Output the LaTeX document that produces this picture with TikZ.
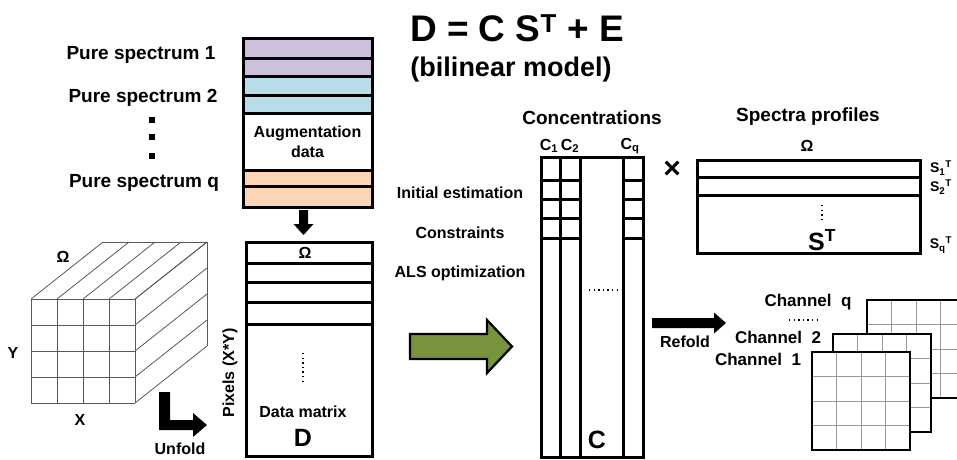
\documentclass[tikz,border=0pt]{standalone}
\usepackage{fontspec}
\setmainfont{Liberation Sans}
\usetikzlibrary{shapes,arrows,positioning}

\definecolor{pureOne}{HTML}{CCC0DA}
\definecolor{pureTwo}{HTML}{B7DEE8}
\definecolor{pureQ}{HTML}{FCD5B4}
\definecolor{alsGreen}{HTML}{77933C}

\newcommand{\bsize}[1]{\bfseries\fontsize{#1}{#1}\selectfont}

\tikzstyle{lbl} = [inner sep=0pt, font=\bsize{16}]
\tikzstyle{bigLbl} = [inner sep=0pt, font=\bsize{19}]
\tikzstyle{chanLbl} = [inner sep=0pt, font=\bsize{17}]
\tikzstyle{matLetter} = [inner sep=0pt, font=\bsize{25}]
\tikzstyle{matBox} = [rectangle, draw, line width=3pt, inner sep=0pt]
\tikzstyle{lineT} = [draw, line width=3pt]
\tikzstyle{gridLine} = [draw=black!65, line width=0.8pt]
\tikzstyle{chanLine} = [draw=black!40, line width=1pt]
\tikzstyle{chanBox} = [draw, fill=white, line width=1.6pt]
\tikzstyle{blockArrow} = [fill=black]
\tikzstyle{dotSq} = [rectangle, fill=black, minimum size=6pt, inner sep=0pt]
\tikzstyle{dotLine} = [draw, line width=1.4pt, dash pattern=on 1.4pt off 3.2pt]

\begin{document}
\begin{tikzpicture}[x=1pt,y=-1pt]

   \useasboundingbox (0,0) rectangle (957,459);

   %% Model
   \node[inner sep=0pt, font=\bsize{37}] (model) at (517,28) {D = C S\textsuperscript{T} + E};
   \node[inner sep=0pt, font=\bsize{27}] (bilinear) at (511,70) {(bilinear model)};

   %% Augmented pure spectra
   \fill[pureOne] (243,38) rectangle (372,76.5);
   \fill[pureTwo] (243,76.5) rectangle (372,113);
   \fill[pureQ]   (243,170) rectangle (372,207);
   \foreach \yy in {58.5,76.5,95,113,170,186.5}
      \path[lineT] (243,\yy) -- (372,\yy);
   \node[matBox, minimum width=129pt, minimum height=169pt] (augBox) at (307.5,122.5) {};
   \node[lbl, align=center] (augText) at (307.5,142) {Augmentation\\[4pt]data};

   \node[bigLbl] (pure1) at (141,55) {Pure spectrum 1};
   \node[bigLbl] (pure2) at (143,98) {Pure spectrum 2};
   \node[dotSq]  (dotA)  at (152,120) {};
   \node[dotSq]  (dotB)  [below=11pt of dotA] {};
   \node[dotSq]  (dotC)  [below=12pt of dotB] {};
   \node[bigLbl] (pureq) at (144,183) {Pure spectrum q};

   % arrow down to the data matrix
   \path[blockArrow] (299,210) -- (308,210) -- (308,224) -- (313.5,224) -- (303.5,235)
      -- (293.5,224) -- (299,224) -- cycle;

   %% Data matrix
   \foreach \yy in {263,282,302,324}
      \path[lineT] (246,\yy) -- (372,\yy);
   \node[matBox, minimum width=126pt, minimum height=214pt] (dataBox) at (309,349) {};
   \node[lbl] (omegaD) at (305,253) {Ω};
   \path[dotLine] (303,353) -- (303,384);
   \node[lbl] (dataText) at (303,412) {Data matrix};
   \node[matLetter] (dLetter) [below=11pt of dataText] {D};
   \node[lbl, rotate=90] (pixels) at (230,373) {Pixels (X*Y)};

   %% Data cube
   \foreach \k in {0,1,2,3,4} {
      \path[gridLine] (31+26*\k,299) -- (31+26*\k,403);
      \path[gridLine] (31,299+26*\k) -- (135,299+26*\k);
      \path[gridLine] (31+26*\k,299) -- ++(72,-57);
      \path[gridLine] (135,299+26*\k) -- ++(72,-57);
   }
   \path[gridLine] (103,242) -- (207,242) -- (207,346);
   \node[lbl] (omegaCube) at (63,257) {Ω};
   \node[lbl] (yLbl) at (13,353) {Y};
   \node[lbl] (xLbl) at (80,420) {X};

   % unfold arrow
   \path[blockArrow] (159,392) -- (170,392) -- (170,420) -- (193,420) -- (193,413)
      -- (207,425) -- (193,437) -- (193,430) -- (159,430) -- cycle;
   \node[lbl] (unfold) at (180,449) {Unfold};

   %% MCR-ALS arrow
   \filldraw[fill=alsGreen, draw=black, line width=2.2pt, line join=miter]
      (410,334) -- (487,334) -- (487,320) -- (512,346.5) -- (487,373) -- (487,359)
      -- (410,359) -- cycle;

   %% Concentrations
   \foreach \xx in {560,580,623}
      \path[lineT] (\xx,157) -- (\xx,457);
   \foreach \yy in {180,199,218,238} {
      \path[lineT] (541,\yy) -- (580,\yy);
      \path[lineT] (623,\yy) -- (643,\yy);
   }
   \node[matBox, minimum width=102pt, minimum height=300pt] (concBox) at (592,307) {};
   \node[bigLbl] (concTitle) at (592,118) {Concentrations};
   \node[lbl] (c1) at (549,146) {C\textsubscript{1}};
   \node[lbl] (c2) at (570,146) {C\textsubscript{2}};
   \node[lbl] (cq) at (630,146) {C\textsubscript{q}};
   \path[dotLine] (589,290) -- (619,290);
   \node[matLetter] (cLetter) at (597,440) {C};

   \node[lbl] (initEst) at (460,193) {Initial estimation};
   \node[lbl] (constr)  at (460,233) {Constraints};
   \node[lbl] (alsOpt)  at (460,273) {ALS optimization};

   %% Spectra profiles
   \node[inner sep=0pt, font=\bsize{30}] (times) at (672,170) {×};
   \foreach \yy in {177,195}
      \path[lineT] (697,\yy) -- (920,\yy);
   \node[matBox, minimum width=223pt, minimum height=93pt] (specBox) at (808.5,206.5) {};
   \node[bigLbl] (specTitle) at (808,117) {Spectra profiles};
   \node[lbl] (omegaS) at (807,146) {Ω};
   \path[dotLine] (822,205) -- (822,219);
   \node[matLetter] (sLetter) at (822,240) {S\textsuperscript{T}};
   \node[inner sep=0pt, font=\bsize{14}] (s1) at (941,168) {S\textsubscript{1}\textsuperscript{T}};
   \node[inner sep=0pt, font=\bsize{14}] (s2) at (941,187) {S\textsubscript{2}\textsuperscript{T}};
   \node[inner sep=0pt, font=\bsize{14}] (sq) at (941,245) {S\textsubscript{q}\textsuperscript{T}};

   %% Refolded channels
   \path[blockArrow] (652,318) -- (714,318) -- (714,312.5) -- (726,323) -- (714,333.5)
      -- (714,328) -- (652,328) -- cycle;
   \node[lbl] (refold) at (685,342) {Refold};

   \begin{scope}
   \clip (0,0) rectangle (957,459);
   \foreach \gx/\gy in {867/300, 833/334, 812/352} {
      \path[chanBox] (\gx,\gy) rectangle ++(98,98);
      \foreach \k in {1,2,3} {
         \path[chanLine] (\gx+24.5*\k,\gy) -- ++(0,98);
         \path[chanLine] (\gx,\gy+24.5*\k) -- ++(98,0);
      }
      \path[draw, line width=1.6pt] (\gx,\gy) rectangle ++(98,98);
   }
   \end{scope}

   \node[chanLbl] (chanq) at (808,302) {Channel~~q};
   \path[dotLine] (789,320) -- (819,320);
   \node[chanLbl] (chan2) at (778,337) {Channel~~2};
   \node[chanLbl] (chan1) at (758,359) {Channel~~1};

\end{tikzpicture}
\end{document}
